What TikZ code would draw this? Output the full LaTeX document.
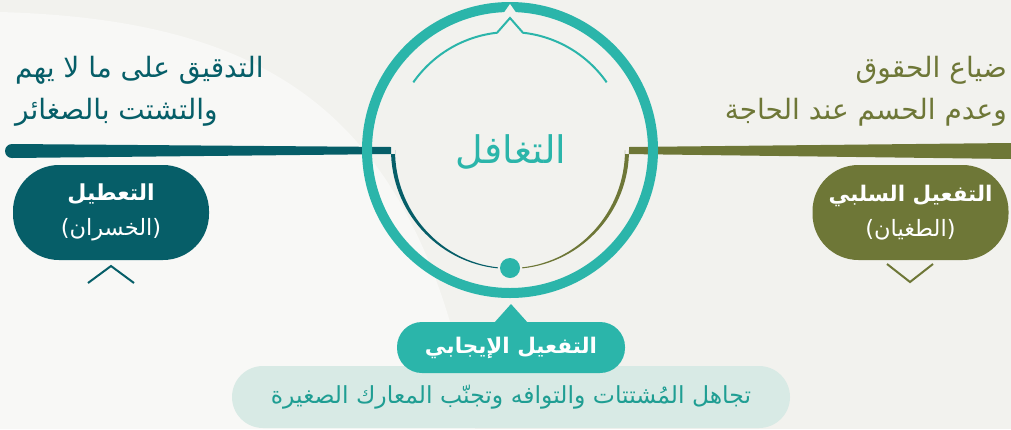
\documentclass[tikz,border=0pt]{standalone}
\usepackage{fontspec}
\usetikzlibrary{calc}
\newfontfamily\arabicfont[Script=Arabic]{DejaVu Sans}
\TeXXeTstate=1
\newcommand{\artext}[1]{{\arabicfont\beginR #1\endR}}

\definecolor{bgmain}{HTML}{F2F2EE}
\definecolor{bglight}{HTML}{F8F8F6}
\definecolor{tealring}{HTML}{2BB5AA}
\definecolor{darkteal}{HTML}{065E68}
\definecolor{olive}{HTML}{6E7737}
\definecolor{palepill}{HTML}{D8EAE5}
\definecolor{tealtext}{HTML}{1F9E93}

\begin{document}
\begin{tikzpicture}[x=1pt, y=-1pt,
    pill/.style={rounded corners=46pt, minimum width=196pt, minimum height=95pt,
        inner sep=0pt, align=center, text=white, font=\fontsize{22.5}{35}\selectfont},
    sidetext/.style={inner sep=0pt, font=\fontsize{28}{32}\selectfont}]
    \useasboundingbox (0,0) rectangle (1011,429);
    \fill[bgmain] (0,0) rectangle (1011,429);
    \fill[bglight] (0,12) .. controls (280,20) and (420,120) .. (475,429) -- (0,429) -- cycle;

    \coordinate (hub) at (510,150);

    % left and right arms, thick at the ends and thinning towards the dot
    \fill[darkteal] (12,144) -- (391,147) -- (391,150)
        arc[start angle=180, end angle=96, radius=119]
        -- ($(hub)+(96:115 and 118)$)
        arc[start angle=96, end angle=180, x radius=115, y radius=118]
        -- (395,154) -- (12,158) arc[start angle=90, end angle=270, radius=7] -- cycle;
    \fill[olive] (1011,143) -- (629,147) -- (629,150)
        arc[start angle=0, end angle=84, radius=119]
        -- ($(hub)+(84:115 and 118)$)
        arc[start angle=84, end angle=0, x radius=115, y radius=118]
        -- (625,154) -- (1011,159) -- cycle;

    % ring with the notch on top
    \draw[tealring, line width=10pt] (hub) circle[radius=143];
    \fill[bgmain] (503,14) -- (510,4) -- (517,14) -- cycle;
    \draw[tealring, line width=2pt] ($(hub)+(215:118)$) arc[start angle=215, end angle=263.7, radius=118]
        -- (510,18) -- ($(hub)+(276.3:118)$) arc[start angle=276.3, end angle=325, radius=118];
    \node[circle, fill=tealring, minimum size=20pt, inner sep=0pt] (dot) at (510,268) {};
    \node[text=tealring, inner sep=0pt, font=\fontsize{38}{40}\selectfont] (core) at (511,152) {\artext{التغافل}};

    % side texts
    \node[sidetext, text=darkteal, anchor=west] (lossA) at (15,70) {\artext{التدقيق على ما لا يهم}};
    \node[sidetext, text=darkteal, anchor=west] (lossB) at (15,112) {\artext{والتشتت بالصغائر}};
    \node[sidetext, text=olive, anchor=east] (rightsA) at (1007,70) {\artext{ضياع الحقوق}};
    \node[sidetext, text=olive, anchor=east] (rightsB) at (1007,112) {\artext{وعدم الحسم عند الحاجة}};

    % pills
    \node[pill, fill=darkteal] (idle) at (111,212.5)
        {\artext{\bfseries\fontsize{22}{26}\selectfont التعطيل}\\ \artext{(الخسران)}};
    \node[pill, fill=olive] (excess) at (910.5,212.5)
        {\artext{\bfseries\fontsize{21.5}{26}\selectfont التفعيل السلبي}\\ \artext{(الطغيان)}};
    \draw[darkteal, line width=2pt] (88,283) -- (111,266) -- (134,283);
    \draw[olive, line width=2pt] (887,264) -- (910,282) -- (933,264);

    % bottom
    \node[fill=palepill, rounded corners=31pt, minimum width=558pt, minimum height=62pt,
        inner sep=0pt, text=tealtext, font=\fontsize{23.5}{26}\selectfont] (calm) at (511,397)
        {\artext{تجاهل المُشتتات والتوافه وتجنّب المعارك الصغيرة}};
    \fill[tealring] (494,323) -- (511,304) -- (528,323) -- cycle;
    \node[fill=tealring, rounded corners=25pt, minimum width=228pt, minimum height=51pt,
        inner sep=0pt, text=white, font=\bfseries\fontsize{21.5}{24}\selectfont] (positive) at (511,347.5)
        {\artext{التفعيل الإيجابي}};
\end{tikzpicture}
\end{document}
